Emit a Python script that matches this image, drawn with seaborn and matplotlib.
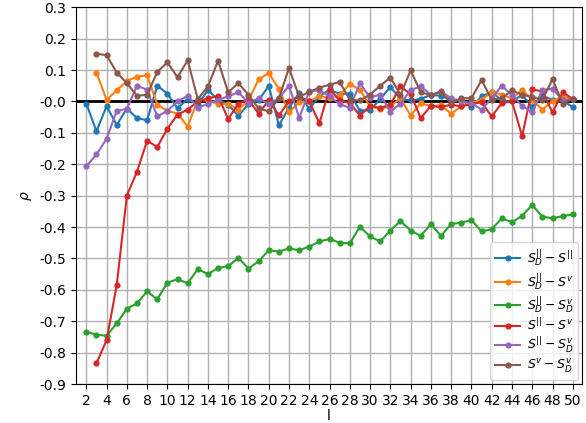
import numpy as np
import pandas as pd
import matplotlib
matplotlib.use("Agg")
import matplotlib.pyplot as plt
import seaborn as sns

l_vals = list(range(2, 51))

# correlation per pair, l = 2..50 (None = no value)
sd_s = [-0.007, -0.095, -0.015, -0.075, -0.023, -0.053, -0.06, 0.05, 0.025, -0.022,
        0.008, -0.01, 0.036, 0.005, -0.01, -0.046, -0.008, 0.003, 0.05, -0.076,
        -0.02, 0.026, -0.024, 0.017, 0.037, 0.024, 0.025, -0.03, -0.028, 0.008,
        0.046, 0.008, 0.003, 0.008, 0.021, 0.018, 0.005, 0.005, -0.018, 0.016,
        0.03, 0.003, 0.0, 0.021, -0.018, 0.018, 0.005, 0.002, -0.018]
sd_sv = [None, 0.092, 0.005, 0.035, 0.065, 0.079, 0.083, -0.01, -0.03, -0.039,
         -0.08, 0.005, 0.003, -0.008, -0.008, -0.026, 0.003, 0.07, 0.09, 0.04,
         -0.035, -0.003, 0.0, 0.018, 0.01, 0.021, 0.055, 0.037, -0.016, -0.024,
         -0.016, 0.01, -0.045, -0.005, -0.016, -0.012, -0.039, -0.016, -0.003, 0.005,
         0.03, 0.021, 0.01, 0.037, 0.005, -0.026, 0.0, 0.016, 0.008]
sd_sdv = [-0.733, -0.743, -0.746, -0.707, -0.66, -0.643, -0.605, -0.63, -0.577, -0.566,
          -0.579, -0.534, -0.55, -0.53, -0.525, -0.498, -0.532, -0.509, -0.474, -0.478,
          -0.468, -0.474, -0.462, -0.446, -0.438, -0.45, -0.452, -0.399, -0.43, -0.446,
          -0.411, -0.381, -0.411, -0.428, -0.391, -0.428, -0.39, -0.386, -0.378, -0.414,
          -0.407, -0.372, -0.385, -0.364, -0.33, -0.367, -0.372, -0.365, -0.36]
s_sv = [None, -0.834, -0.76, -0.585, -0.3, -0.224, -0.125, -0.145, -0.087, -0.042,
        -0.026, 0.0, 0.01, 0.017, -0.056, -0.007, 0.006, -0.039, 0.004, -0.044,
        0.0, 0.016, 0.0, -0.069, 0.04, 0.003, -0.005, -0.045, -0.014, -0.021,
        -0.01, 0.048, 0.023, -0.053, -0.014, -0.018, -0.01, -0.016, -0.008, -0.003,
        -0.048, -0.005, 0.0, -0.11, 0.038, 0.032, -0.035, 0.029, 0.008]
s_sdv = [-0.206, -0.169, -0.119, -0.03, -0.024, 0.05, 0.037, -0.048, -0.03, 0.0,
         0.018, -0.021, -0.007, 0.005, 0.016, 0.029, -0.005, 0.01, -0.008, 0.01,
         0.05, -0.052, 0.032, 0.036, 0.016, -0.009, -0.02, 0.058, 0.012, 0.022,
         -0.033, -0.007, 0.036, 0.048, 0.021, 0.032, 0.01, 0.0, -0.005, -0.026,
         0.01, 0.05, 0.02, -0.014, -0.035, 0.037, 0.04, 0.005, 0.007]
sv_sdv = [None, 0.152, 0.147, 0.092, 0.058, 0.018, 0.021, 0.094, 0.124, 0.077,
          0.131, 0.007, 0.048, 0.129, 0.029, 0.058, 0.021, -0.022, -0.032, 0.01,
          0.106, 0.015, 0.03, 0.044, 0.053, 0.062, 0.005, 0.003, 0.022, 0.05,
          0.076, 0.021, 0.099, 0.029, 0.02, 0.03, -0.005, 0.01, 0.01, 0.068,
          0.005, 0.01, 0.035, 0.021, 0.014, 0.005, 0.071, -0.007, 0.008]

labels = [r'$S_D^{||}-S^{||}$', r'$S_D^{||}-S^{v}$', r'$S_D^{||}-S_D^{v}$',
          r'$S^{||}-S^{v}$', r'$S^{||}-S_D^{v}$', r'$S^{v}-S_D^{v}$']
series = [sd_s, sd_sv, sd_sdv, s_sv, s_sdv, sv_sdv]

rows = []
for lab, vals in zip(labels, series):
    for l, v in zip(l_vals, vals):
        if v is not None:
            rows.append({'l': l, 'rho': v, 'pair': lab})
df = pd.DataFrame(rows)

fig, ax = plt.subplots(figsize=(5.86, 4.23), dpi=100)
fig.subplots_adjust(left=0.13, right=0.993, bottom=0.092, top=0.983)

ax.axhline(0, color='black', lw=2, zorder=1)
sns.lineplot(data=df, x='l', y='rho', hue='pair', hue_order=labels,
             palette=sns.color_palette('tab10', 6), marker='o', markersize=4.5,
             markeredgewidth=0, lw=1.5, errorbar=None, ax=ax, zorder=3)

ax.set_xlim(1, 50.9)
ax.set_ylim(-0.9, 0.3)
ax.set_xticks(range(2, 51, 2))
ax.set_yticks(np.arange(-0.9, 0.31, 0.1))
ax.yaxis.set_major_formatter(matplotlib.ticker.FormatStrFormatter('%.1f'))
ax.grid(True, color='#b0b0b0', lw=1)
ax.set_axisbelow(True)
ax.set_xlabel('l', labelpad=1)
ax.set_ylabel(r'$\rho$')
ax.legend(loc='lower right', fontsize=9, labelspacing=0.2, handletextpad=0.5,
          borderaxespad=0.3)

fig.savefig('out.png', dpi=100)
